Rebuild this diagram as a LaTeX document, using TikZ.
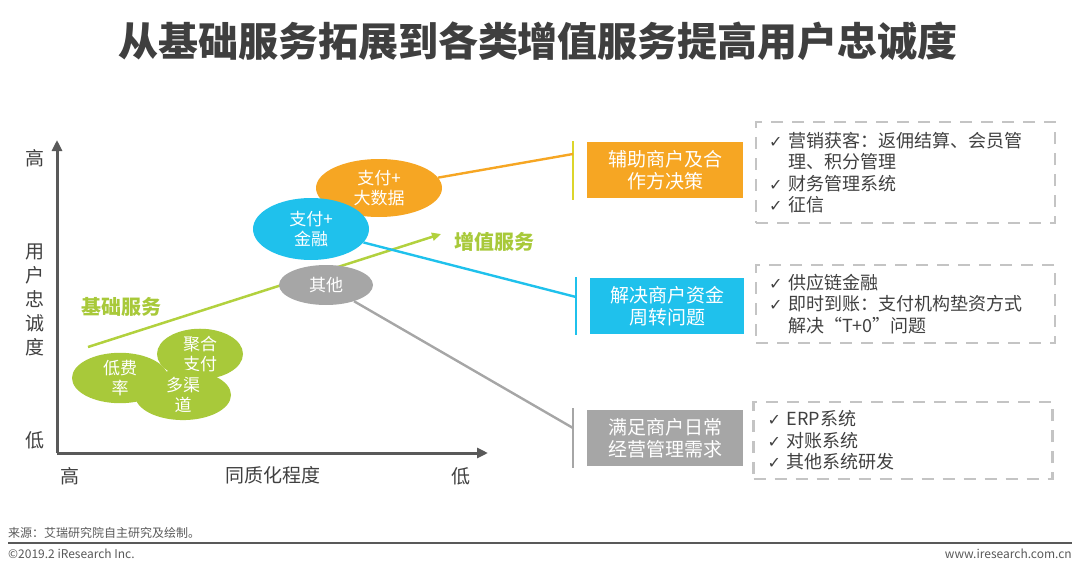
\documentclass[tikz,border=0pt]{standalone}
\usepackage{fontspec}
\setmainfont{Noto Sans CJK SC}
\newfontfamily\symfont{DejaVu Sans}
\usepackage{xcolor}
\usetikzlibrary{arrows.meta,positioning,calc,shapes.geometric}
\definecolor{irTitle}{HTML}{3F3F3F}
\definecolor{irText}{HTML}{404040}
\definecolor{irAxis}{HTML}{595959}
\definecolor{irOrange}{HTML}{F6A623}
\definecolor{irCyan}{HTML}{1FC1EC}
\definecolor{irGray}{HTML}{A6A6A6}
\definecolor{irGreen}{HTML}{A8C93A}
\definecolor{irLime}{HTML}{B2D13E}
\definecolor{irYellow}{HTML}{DCD52B}
\definecolor{irDash}{HTML}{C4C4C4}
\definecolor{irFoot}{HTML}{595959}
\newcommand{\chk}{\makebox[19pt][l]{\symfont\fontsize{16}{18}\selectfont ✓}}

\begin{document}
\begin{tikzpicture}[
  x=1pt,y=-1pt,
  axis/.style={draw=irAxis,line width=3pt,-{Triangle[length=11pt,width=10pt]}},
  growth/.style={draw=irLime,line width=2.5pt,-{Triangle[length=9pt,width=8pt]}},
  lbl/.style={font=\fontsize{19}{24}\selectfont,color=irText,align=center,inner sep=0pt},
  tagtext/.style={font=\bfseries\fontsize{20}{24}\selectfont,color=irGreen,inner sep=0pt},
  blob/.style={ellipse,inner sep=0pt,text=white,align=center,font=\fontsize{17}{20}\selectfont},
  goal/.style={rectangle,inner sep=0pt,minimum width=156pt,minimum height=56pt,text=white,align=center,font=\fontsize{19}{22}\selectfont},
  brace/.style={line width=2.5pt},
  link/.style={line width=2.4pt},
  dashbox/.style={draw=irDash,line width=2.2pt,dash pattern=on 12pt off 9pt,minimum width=299pt,inner sep=0pt},
  list/.style={font=\fontsize{18}{21.5}\selectfont,color=irText,anchor=west,align=left,inner sep=0pt},
  foot/.style={font=\fontsize{12}{14}\selectfont,color=irFoot,inner sep=0pt}
]
  \useasboundingbox (0,0) rectangle (1080,570);
  % title
  \node[font=\bfseries\fontsize{40}{46}\selectfont,color=irTitle] (title) at (538,41) {从基础服务拓展到各类增值服务提高用户忠诚度};
  % axes
  \coordinate (O) at (57,453);
  \coordinate (ytip) at (57,140);
  \coordinate (xtip) at (488,453);
  \draw[axis] (O) -- (ytip);
  \draw[axis] (O) -- (xtip);
  \node[lbl] (yhigh) at (35,158) {高};
  \node[lbl] (ylab) at (35,300) {用\\户\\忠\\诚\\度};
  \node[lbl] (ylow) at (35,440) {低};
  \node[lbl] (xhigh) at (70,476) {高};
  \node[lbl] (xlab) at (273,475) {同质化程度};
  \node[lbl] (xlow) at (461,476) {低};
  % trend
  \coordinate (gstart) at (88,347);
  \coordinate (gend) at (441,234);
  \draw[growth] (gstart) -- (gend);
  \node[tagtext] (basic) at (121,307) {基础服务};
  \node[tagtext] (added) at (494,242) {增值服务};
  % brackets
  \coordinate (b1top) at (573,141); \coordinate (b1bot) at (573,200); \coordinate (b1in) at (573,154);
  \coordinate (b2top) at (576,277); \coordinate (b2bot) at (576,335); \coordinate (b2in) at (576,297);
  \coordinate (b3top) at (573,408); \coordinate (b3bot) at (573,468); \coordinate (b3in) at (573,428);
  \draw[brace,draw=irYellow] (b1top) -- (b1bot);
  \draw[brace,draw=irCyan] (b2top) -- (b2bot);
  \draw[brace,draw=irGray] (b3top) -- (b3bot);
  % service blobs
  \node[blob,fill=irGreen,minimum width=86pt,minimum height=46pt] (juhe) at (200,354) {聚合\\支付};
  \node[blob,fill=irGreen,minimum width=96pt,minimum height=50pt] (feilv) at (120,378) {低费\\率};
  \node[blob,fill=irGreen,minimum width=96pt,minimum height=46pt] (qudao) at (183,395) {多渠\\道};
  \node[blob,fill=irOrange,minimum width=126pt,minimum height=58pt] (bigdata) at (379,188) {支付+\\大数据};
  \node[blob,fill=irGray,minimum width=94pt,minimum height=40pt] (other) at (326,285) {其他};
  \node[blob,fill=irCyan,minimum width=116pt,minimum height=62pt] (finance) at (311,229) {支付+\\金融};
  \draw[link,draw=irOrange] (bigdata) -- (b1in);
  \draw[link,draw=irCyan] (finance) -- (b2in);
  \draw[link,draw=irGray] (other) -- (b3in);
  % goals
  \node[goal,fill=irOrange] (goal1) at (665,170) {辅助商户及合\\作方决策};
  \node[goal,fill=irCyan,minimum width=154pt] (goal2) at (667,306) {解决商户资金\\周转问题};
  \node[goal,fill=irGray] (goal3) at (665,438) {满足商户日常\\经营管理需求};
  % lists
  \node[dashbox,minimum height=101pt] (box1) at (905.5,172.5) {};
  \node[dashbox,minimum height=78pt] (box2) at (905.5,304) {};
  \node[dashbox,minimum height=77pt] (box3) at (903,440.5) {};
  \node[list,xshift=14pt] (list1) at (box1.west) {\chk 营销获客：返佣结算、会员管\\\hspace*{19pt}理、积分管理\\\chk 财务管理系统\\\chk 征信};
  \node[list,xshift=14pt] (list2) at (box2.west) {\chk 供应链金融\\\chk 即时到账：支付机构垫资方式\\\hspace*{19pt}解决“T+0”问题};
  \node[list,xshift=15pt] (list3) at (box3.west) {\chk ERP系统\\\chk 对账系统\\\chk 其他系统研发};
  % footer
  \node[foot,anchor=west] (source) at (8,533) {来源：艾瑞研究院自主研究及绘制。};
  \draw[draw=irAxis,line width=1.2pt] (8,543) -- (1072,543);
  \node[foot,anchor=west] (copy) at (8,554) {©2019.2 iResearch Inc.};
  \node[foot,anchor=east] (web) at (1072,554) {www.iresearch.com.cn};
\end{tikzpicture}
\end{document}
